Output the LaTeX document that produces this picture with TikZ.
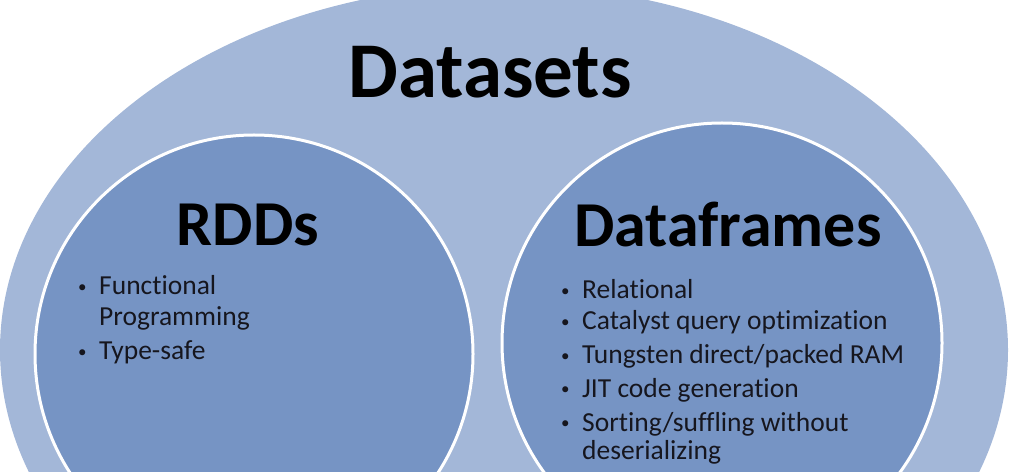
\documentclass[tikz,border=0pt]{standalone}
\usepackage{fontspec}
\setmainfont{Carlito}[Ligatures=NoCommon]
\usepackage{xcolor}
\usepackage{tikz}
\usetikzlibrary{positioning}
\definecolor{outerblue}{RGB}{163,183,216}
\definecolor{innerblue}{RGB}{118,148,196}
\definecolor{ink}{RGB}{22,22,30}
\newcommand{\bul}{\makebox[21pt][l]{\raisebox{2.5pt}{\fontsize{17}{17}\selectfont\textbullet}}}
\newcommand{\cont}{\hspace*{21pt}}

\begin{document}
\begin{tikzpicture}[x=1pt,y=1pt,
  title/.style={font=\fontsize{79}{82}\selectfont\bfseries,anchor=base,inner sep=0pt},
  head/.style={font=\fontsize{64}{67}\selectfont\bfseries,anchor=base,inner sep=0pt},
  item/.style={font=\fontsize{27.5}{30}\selectfont,text=ink,anchor=base west,inner sep=0pt},
  setcircle/.style={circle,draw=white,line width=3pt,fill=innerblue,inner sep=0pt}]
\useasboundingbox (0,0) rectangle (1024,471);
\clip (0,0) rectangle (1024,471);
% outer set
\fill[outerblue] (504,121) ellipse [x radius=504, y radius=365];
\node[title] (datasets) at (490,373) {Datasets};
% inner sets
\node[setcircle,minimum size=438pt] (rdd) at (254,117) {};
\node[setcircle,minimum size=440pt] (df) at (722,128) {};
\node[head] (rddtitle) at (248,225) {RDDs};
\node[head] (dftitle) at (728,224) {Dataframes};
% RDD features
\foreach \y/\t [count=\i] in {176/{\bul Functional}, 145/{\cont Programming}, 111/{\bul Type-safe}}
   \node[item] (rddl\i) at (78,\y) {\t};
% Dataframe features
\foreach \y/\t [count=\i] in {172/{\bul Relational}, 141/{\bul Catalyst query optimization},
   107/{\bul Tungsten direct/packed RAM}, 74/{\bul JIT code generation},
   40/{\bul Sorting/suffling without}, 12/{\cont deserializing}}
   \node[item] (dfl\i) at (561,\y) {\t};
\end{tikzpicture}
\end{document}
